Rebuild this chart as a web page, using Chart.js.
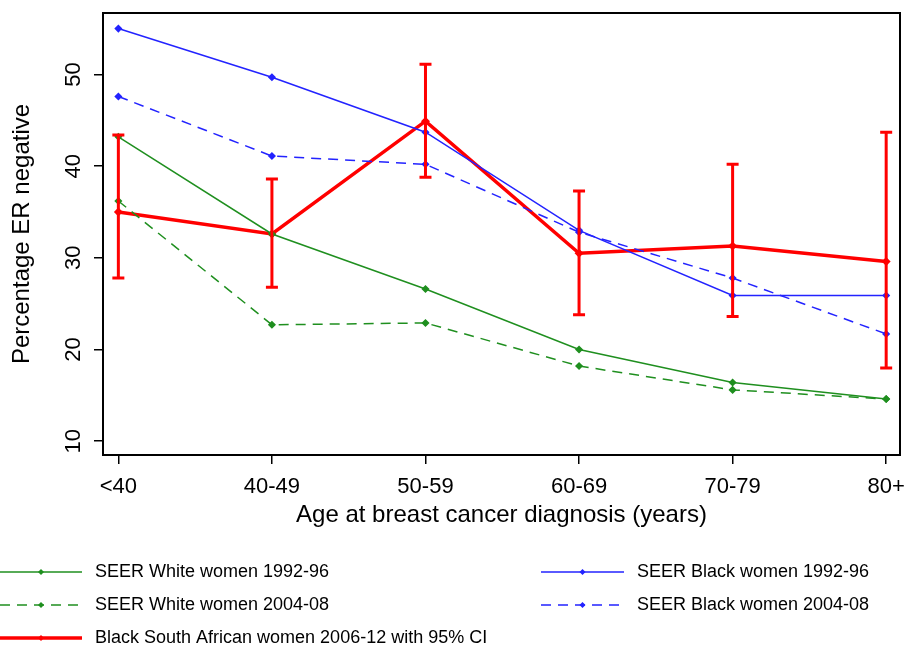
<!DOCTYPE html>
<html>
<head>
<meta charset="utf-8">
<script src="https://cdn.jsdelivr.net/npm/chart.js@4.4.1/dist/chart.umd.min.js"></script>
<style>
  html, body { margin: 0; padding: 0; background: #fff; }
  #wrap { width: 908px; height: 651px; position: relative; }
</style>
</head>
<body>
<div id="wrap"><canvas id="erChart"></canvas></div>
<script>
// Grupos de edad (eje X) y marcas del eje Y
const ageGroups = ['<40', '40-49', '50-59', '60-69', '70-79', '80+'];
const yTicks = [10, 20, 30, 40, 50];

// Series SEER
const seerWhite9296 = [43.2, 32.6, 26.6, 20.0, 16.4, 14.6];
const seerWhite0408 = [36.2, 22.7, 22.9, 18.2, 15.6, 14.6];
const seerBlack9296 = [55.0, 49.7, 43.7, 33.0, 25.9, 25.9];
const seerBlack0408 = [47.6, 41.1, 40.2, 32.8, 27.8, 21.7];

// Mujeres negras sudafricanas con IC 95%
const saBlack = [35.0, 32.6, 44.9, 30.5, 31.3, 29.6];
const saCiLow = [27.8, 26.8, 38.8, 23.8, 23.6, 18.0];
const saCiHigh = [43.4, 38.6, 51.1, 37.3, 40.2, 43.7];

const GREEN = '#1f8f1f';
const BLUE = '#2323ff';
const RED = '#ff0000';
const FONT = "'Liberation Sans', Arial, sans-serif";

function toPoints(values) {
    return values.map((v, i) => ({ x: i, y: v }));
}

// Sin relleno extra por las etiquetas de los ejes
function noLabelPadding(scale) {
    scale.paddingLeft = 0;
    scale.paddingRight = 0;
    scale.paddingTop = 0;
    scale.paddingBottom = 0;
}

// Barras de error del IC 95%
const errorBarsPlugin = {
    id: 'errorBars',
    afterDatasetsDraw(chart) {
        const ctx = chart.ctx;
        const xs = chart.scales.x;
        const ys = chart.scales.y;
        ctx.save();
        ctx.strokeStyle = RED;
        ctx.lineWidth = 3;
        saBlack.forEach((v, i) => {
            const px = xs.getPixelForValue(i);
            const top = ys.getPixelForValue(saCiHigh[i]);
            const bottom = ys.getPixelForValue(saCiLow[i]);
            ctx.beginPath();
            ctx.moveTo(px, top); ctx.lineTo(px, bottom);
            ctx.moveTo(px - 6, top); ctx.lineTo(px + 6, top);
            ctx.moveTo(px - 6, bottom); ctx.lineTo(px + 6, bottom);
            ctx.stroke();
        });
        ctx.restore();
    }
};

// Marco del grafico y leyenda en dos columnas
const frameLegendPlugin = {
    id: 'frameLegend',
    afterDraw(chart) {
        const ctx = chart.ctx;
        const a = chart.chartArea;
        ctx.save();
        ctx.strokeStyle = '#000';
        ctx.lineWidth = 2;
        ctx.strokeRect(a.left, a.top, a.right - a.left, a.bottom - a.top);

        const slots = [
            { x0: 0, x1: 82, tx: 95, y: 572 },
            { x0: 0, x1: 82, tx: 95, y: 605 },
            { x0: 541, x1: 624, tx: 637, y: 572 },
            { x0: 541, x1: 624, tx: 637, y: 605 },
            { x0: 0, x1: 82, tx: 95, y: 638 }
        ];
        chart.data.datasets.forEach((ds, i) => {
            const s = slots[i];
            ctx.strokeStyle = ds.borderColor;
            ctx.lineWidth = ds.borderWidth;
            ctx.setLineDash(ds.borderDash || []);
            ctx.beginPath();
            ctx.moveTo(s.x0, s.y);
            ctx.lineTo(s.x1, s.y);
            ctx.stroke();
            ctx.setLineDash([]);
            const mx = (s.x0 + s.x1) / 2;
            ctx.fillStyle = ds.borderColor;
            ctx.beginPath();
            ctx.moveTo(mx, s.y - 3); ctx.lineTo(mx + 3, s.y);
            ctx.lineTo(mx, s.y + 3); ctx.lineTo(mx - 3, s.y);
            ctx.closePath();
            ctx.fill();
            ctx.fillStyle = '#000';
            ctx.font = '18px ' + FONT;
            ctx.textAlign = 'left';
            ctx.textBaseline = 'middle';
            ctx.fillText(ds.label, s.tx, s.y);
        });
        ctx.restore();
    }
};

const ctx = document.getElementById('erChart').getContext('2d');
const erChart = new Chart(ctx, {
    type: 'line',
    data: {
        datasets: [{
            label: 'SEER White women 1992-96',
            data: toPoints(seerWhite9296),
            borderColor: GREEN,
            backgroundColor: GREEN,
            borderWidth: 1.5,
            pointStyle: 'rectRot',
            pointRadius: 3
        }, {
            label: 'SEER White women 2004-08',
            data: toPoints(seerWhite0408),
            borderColor: GREEN,
            backgroundColor: GREEN,
            borderWidth: 1.5,
            borderDash: [10, 7],
            pointStyle: 'rectRot',
            pointRadius: 3
        }, {
            label: 'SEER Black women 1992-96',
            data: toPoints(seerBlack9296),
            borderColor: BLUE,
            backgroundColor: BLUE,
            borderWidth: 1.5,
            pointStyle: 'rectRot',
            pointRadius: 3
        }, {
            label: 'SEER Black women 2004-08',
            data: toPoints(seerBlack0408),
            borderColor: BLUE,
            backgroundColor: BLUE,
            borderWidth: 1.5,
            borderDash: [10, 7],
            pointStyle: 'rectRot',
            pointRadius: 3
        }, {
            label: 'Black South African women 2006-12 with 95% CI',
            data: toPoints(saBlack),
            borderColor: RED,
            backgroundColor: RED,
            borderWidth: 3.5,
            pointStyle: 'rectRot',
            pointRadius: 2
        }]
    },
    options: {
        responsive: true,
        maintainAspectRatio: false,
        animation: false,
        layout: { padding: { top: 13, right: 8, left: 0, bottom: 116 } },
        plugins: {
            legend: { display: false },
            tooltip: { enabled: false }
        },
        scales: {
            x: {
                type: 'linear',
                min: -0.1,
                max: 5.09,
                afterBuildTicks: (scale) => { scale.ticks = ageGroups.map((g, i) => ({ value: i })); },
                afterFit: (scale) => { scale.height = 80; noLabelPadding(scale); },
                grid: { drawOnChartArea: false, drawTicks: true, tickLength: 9, color: '#000', lineWidth: 1.5 },
                border: { display: false },
                ticks: {
                    color: '#000',
                    font: { family: FONT, size: 22 },
                    padding: 10,
                    maxRotation: 0,
                    callback: (v) => ageGroups[v]
                },
                title: {
                    display: true,
                    text: 'Age at breast cancer diagnosis (years)',
                    color: '#000',
                    font: { family: FONT, size: 24 },
                    padding: { top: 0, bottom: 5 }
                }
            },
            y: {
                min: 8.5,
                max: 56.7,
                afterBuildTicks: (scale) => { scale.ticks = yTicks.map(v => ({ value: v })); },
                afterFit: (scale) => { scale.width = 103; noLabelPadding(scale); },
                grid: { drawOnChartArea: false, drawTicks: true, tickLength: 9, color: '#000', lineWidth: 1.5 },
                border: { display: false },
                ticks: {
                    color: '#000',
                    font: { family: FONT, size: 22 },
                    padding: 8,
                    minRotation: 90,
                    maxRotation: 90,
                    crossAlign: 'center'
                },
                title: {
                    display: true,
                    text: 'Percentage ER negative',
                    color: '#000',
                    font: { family: FONT, size: 24 },
                    padding: { top: 8, bottom: 0 }
                }
            }
        }
    },
    plugins: [errorBarsPlugin, frameLegendPlugin]
});
</script>
</body>
</html>
